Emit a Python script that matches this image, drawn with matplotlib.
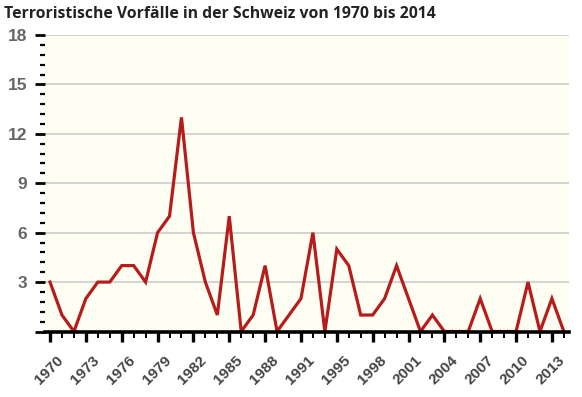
import matplotlib
matplotlib.use("Agg")
import matplotlib.pyplot as plt
import matplotlib.transforms as mtransforms
from matplotlib.ticker import MultipleLocator

# Data (1993 missing in source data)
years = list(range(1970, 1993)) + list(range(1994, 2015))
incidents = [3, 1, 0, 2, 3, 3, 4, 4, 3, 6, 7, 13, 6, 3, 1, 7, 0, 1, 4, 0,
             1, 2, 6, 0, 5, 4, 1, 1, 2, 4, 2, 0, 1, 0, 0, 0, 2, 0, 0, 0,
             3, 0, 2, 0]
label_every = 3
title = "Terroristische Vorfälle in der Schweiz von 1970 bis 2014"

fig = plt.figure(figsize=(5.82, 3.97), dpi=100)
ax = fig.add_axes([45/582, 1-331.5/397, (569-45)/582, (331.5-35)/397])
ax.set_facecolor("#fffef3")

x = list(range(len(years)))
ax.plot(x, incidents, color="#b71c1c", lw=2.3, zorder=2, solid_joinstyle="miter")

ax.set_xlim(-0.42, 43.43)
ax.set_ylim(0, 18)

# grid
ax.yaxis.set_major_locator(MultipleLocator(3))
ax.yaxis.set_minor_locator(MultipleLocator(0.6))
ax.grid(axis="y", which="major", color="#cccccc", lw=1.2, zorder=1)
ax.set_axisbelow(True)

for s in ["top", "right", "left"]:
    ax.spines[s].set_visible(False)
ax.spines["bottom"].set_linewidth(2.6)
ax.spines["bottom"].set_color("black")
ax.spines["bottom"].set_zorder(3)

yt = [v for v in range(3, 19, 3)]
ax.set_yticks([0] + yt)
ax.set_yticklabels([""] + [str(v) for v in yt])
ax.tick_params(axis="y", which="major", length=7, width=2, color="black",
               pad=6, labelsize=12.5, labelcolor="#666666")
ax.tick_params(axis="y", which="minor", length=3.5, width=1.6, color="black")
for lab in ax.get_yticklabels():
    lab.set_fontweight("bold")
    lab.set_family("Liberation Sans")

ax.set_xticks(x[::label_every])
ax.set_xticks(x, minor=True)
ax.set_xticklabels([str(years[i]) for i in x[::label_every]])
ax.tick_params(axis="x", which="major", length=7, width=2.4, color="black",
               pad=12, labelsize=11, labelcolor="#444444")
ax.tick_params(axis="x", which="minor", length=4, width=1.4, color="black")
offset = mtransforms.ScaledTranslation(8/72, 0, fig.dpi_scale_trans)
for lab in ax.get_xticklabels():
    lab.set_rotation(45)
    lab.set_ha("right")
    lab.set_va("center")
    lab.set_rotation_mode("anchor")
    lab.set_fontweight("bold")
    lab.set_family("Liberation Sans")
    lab.set_transform(lab.get_transform() + offset)

fig.text(4/582, 1-18/397, title, fontsize=11.3, fontweight="bold",
         family="Open Sans", color="#222222", va="baseline", ha="left")

fig.savefig("out.png", dpi=100)
